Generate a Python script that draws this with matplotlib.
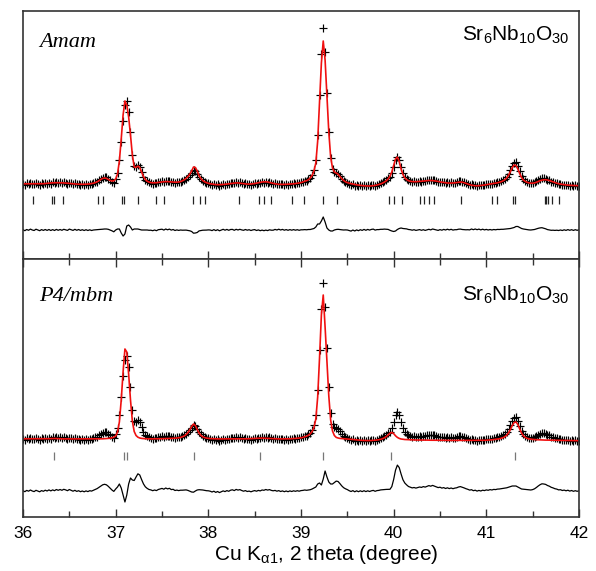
import numpy as np
import matplotlib
matplotlib.use("Agg")
from matplotlib import pyplot as plt
from matplotlib.ticker import MultipleLocator

plt.rcParams['font.family'] = ['Liberation Sans', 'DejaVu Sans']
plt.rcParams['mathtext.fontset'] = 'custom'
plt.rcParams['mathtext.rm'] = 'Liberation Sans'
plt.rcParams['mathtext.it'] = 'Liberation Sans:italic'

# 2 theta grid, 0.02 deg step
two_theta = np.round(np.linspace(36.0, 42.0, 301), 2)

# observed intensity (arb. units), one row = 0.2 deg
obs = [
    1.5, 0.5, 1.8, 1.0, 2.2, 1.2, 0.6, 1.9, 1.1, 0.4,
    1.6, 0.9, 2.0, 1.3, 2.4, 1.5, 2.6, 1.8, 2.9, 2.0,
    2.7, 1.9, 2.8, 2.2, 1.4, 2.5, 1.6, 0.8, 1.7, 0.6,
    1.3, 0.3, 1.0, 0.2, 1.1, 0.4, 1.3, 0.9, 1.8, 2.6,
    3.5, 4.8, 6.2, 7.4, 8.0, 7.6, 6.3, 4.6, 3.2, 2.4,
    6.0, 12, 25, 43, 64, 80, 84, 73, 53, 30,
    19, 18.5, 20, 18, 13, 8.5, 5.5, 3.8, 2.6, 2.2,
    1.5, 2.2, 1.6, 2.8, 3.3, 3.9, 3.2, 4.4, 3.6, 4.2,
    3.0, 3.4, 2.3, 2.9, 2.6, 3.4, 4.0, 5.0, 6.5, 8.0,
    10.0, 12.5, 14.8, 14.5, 11.5, 8.3, 5.8, 4.2, 3.0, 2.2,
    1.8, 1.2, 0.3, 1.0, -0.2, 0.6, -0.5, 0.4, 1.2, 0.5,
    1.5, 0.8, 1.9, 2.3, 1.6, 2.8, 2.1, 2.6, 1.7, 1.0,
    1.6, 0.7, 1.2, 0.5, 1.3, 1.9, 1.4, 2.4, 2.0, 2.9,
    2.5, 3.1, 2.4, 2.8, 1.9, 1.4, 1.8, 0.9, 1.5, 0.6,
    1.2, 0.4, 1.1, 0.5, 1.3, 0.8, 1.6, 1.2, 2.0, 1.7,
    2.6, 3.2, 4.2, 4.5, 5.8, 7.5, 10.5, 15.5, 25, 50,
    90, 131, 157, 133, 92, 53, 27, 16, 13, 12.5,
    11.5, 9, 6.5, 4.5, 3.3, 2.4, 1.2, 0.2, 0.9, -0.5,
    0.3, -0.8, -0.1, -1.0, -0.2, -1.2, -0.4, -1.1, -0.3, 0.2,
    -0.5, 0.4, 0.9, 1.8, 2.6, 3.8, 5.0, 6.6, 8.5, 12,
    18, 25, 28.5, 25, 18, 12, 8.5, 6.5, 4.8, 4.0,
    3.2, 3.6, 2.9, 3.4, 4.0, 3.5, 4.3, 3.8, 4.6, 5.2,
    4.6, 5.4, 4.7, 4.0, 3.1, 3.5, 2.6, 3.1, 2.2, 2.8,
    2.0, 2.6, 1.9, 2.5, 2.8, 3.6, 3.9, 3.3, 2.6, 1.8,
    1.2, 0.4, 0.8, -0.2, 0.3, -0.5, 0.2, -0.4, 0.5, 0.1,
    0.9, 0.6, 1.4, 1.2, 2.0, 2.0, 2.8, 3.2, 4.0, 4.8,
    6.2, 8.0, 11, 15, 19.5, 22.5, 23, 19.5, 14, 9,
    6, 4.3, 3.2, 2.2, 1.8, 2.0, 2.6, 3.8, 5.2, 6.4,
    7.2, 7.0, 6.5, 5.4, 4.6, 3.5, 2.9, 2.0, 1.6, 0.8,
    0.9, 0.1, 0.5, -0.3, 0.3, -0.6, -0.1, -0.9, -0.3, -1.0,
    -0.5,
]

# calculated profile, Amam model
calc_amam = [
    1.2, 1.2, 1.3, 1.3, 1.3, 1.2, 1.1, 1.1, 1.1, 1.1,
    1.2, 1.3, 1.5, 1.7, 1.9, 2.0, 2.2, 2.3, 2.3, 2.3,
    2.2, 2.2, 2.1, 2.0, 1.8, 1.6, 1.4, 1.2, 1.0, 0.9,
    0.8, 0.7, 0.7, 0.7, 0.8, 0.9, 1.1, 1.4, 1.8, 2.4,
    3.2, 4.3, 5.6, 6.6, 7.0, 6.6, 5.6, 4.6, 4.0, 4.2,
    6.0, 11, 24, 46, 70, 84, 80, 68, 50, 30,
    18, 17.5, 19, 17.5, 13, 8.5, 5.5, 3.8, 2.9, 2.4,
    2.2, 2.2, 2.3, 2.5, 2.8, 3.1, 3.3, 3.4, 3.4, 3.3,
    3.1, 2.9, 2.8, 2.8, 3.0, 3.4, 4.2, 5.2, 6.6, 8.4,
    10.8, 14.0, 18, 17.5, 14, 9.2, 6.4, 4.4, 3.2, 2.3,
    1.7, 1.2, 0.9, 0.6, 0.4, 0.3, 0.3, 0.4, 0.5, 0.7,
    0.9, 1.1, 1.4, 1.7, 1.9, 2.1, 2.1, 1.9, 1.6, 1.3,
    1.1, 0.9, 0.9, 1.0, 1.2, 1.5, 1.9, 2.3, 2.7, 3.0,
    3.2, 3.2, 3.0, 2.6, 2.1, 1.6, 1.2, 0.9, 0.7, 0.6,
    0.6, 0.6, 0.7, 0.8, 0.9, 1.0, 1.2, 1.4, 1.7, 2.0,
    2.4, 3.0, 3.8, 4.3, 5.3, 7.0, 9.5, 14, 22, 44,
    84, 122, 144, 125, 90, 53, 28, 17, 13, 12,
    10.8, 8.6, 6.3, 4.5, 3.2, 2.4, 1.8, 1.3, 0.9, 0.5,
    0.2, -0.1, -0.4, -0.6, -0.8, -0.9, -1.0, -1.0, -0.9, -0.7,
    -0.4, 0.0, 0.5, 1.1, 1.9, 2.9, 4.2, 6.0, 8.8, 13,
    19.5, 26, 28, 23.5, 16, 10.5, 7.2, 5.4, 4.3, 3.7,
    3.4, 3.3, 3.3, 3.4, 3.6, 3.8, 4.0, 4.2, 4.4, 4.5,
    4.5, 4.4, 4.2, 3.9, 3.5, 3.1, 2.8, 2.5, 2.2, 2.0,
    1.9, 1.9, 2.0, 2.2, 2.5, 2.8, 3.0, 2.8, 2.3, 1.6,
    0.9, 0.3, -0.2, -0.5, -0.7, -0.8, -0.7, -0.5, -0.3, 0.0,
    0.3, 0.6, 0.9, 1.2, 1.5, 1.8, 2.2, 2.7, 3.3, 4.1,
    5.3, 7.0, 9.8, 13.5, 17.5, 20, 19.5, 16, 11.5, 7.5,
    5.0, 3.6, 2.7, 2.1, 1.8, 1.8, 2.1, 2.7, 3.5, 4.3,
    4.9, 5.2, 5.3, 5.0, 4.5, 3.8, 3.1, 2.4, 1.8, 1.3,
    0.9, 0.6, 0.3, 0.1, -0.1, -0.3, -0.4, -0.5, -0.6, -0.7,
    -0.7,
]

# calculated profile, P4/mbm model
calc_p4 = [
    1.2, 1.2, 1.2, 1.2, 1.2, 1.2, 1.2, 1.2, 1.2, 1.2,
    1.2, 1.2, 1.2, 1.3, 1.3, 1.4, 1.5, 1.5, 1.4, 1.3,
    1.2, 1.2, 1.1, 1.1, 1.1, 1.0, 1.0, 1.0, 1.0, 1.0,
    1.0, 1.0, 1.0, 1.0, 1.0, 1.0, 1.0, 1.0, 1.1, 1.1,
    1.1, 1.1, 1.2, 1.2, 1.3, 1.4, 1.6, 1.8, 2.2, 2.8,
    4.0, 8.0, 18, 40, 68, 91, 88, 66, 40, 19,
    8.5, 4.5, 2.8, 2.0, 1.6, 1.4, 1.3, 1.2, 1.1, 1.1,
    1.2, 1.2, 1.2, 1.3, 1.3, 1.3, 1.4, 1.4, 1.5, 1.5,
    1.6, 1.7, 1.8, 2.0, 2.2, 2.6, 3.2, 4.0, 5.4, 7.4,
    10.2, 13.5, 16.0, 14.5, 10.5, 7.0, 4.6, 3.2, 2.4, 1.9,
    1.6, 1.4, 1.3, 1.2, 1.2, 1.1, 1.1, 1.1, 1.1, 1.1,
    1.1, 1.1, 1.1, 1.1, 1.2, 1.2, 1.2, 1.2, 1.2, 1.2,
    1.2, 1.2, 1.3, 1.3, 1.4, 1.5, 1.6, 1.8, 1.9, 1.9,
    1.8, 1.6, 1.5, 1.4, 1.3, 1.2, 1.2, 1.1, 1.1, 1.1,
    1.1, 1.1, 1.1, 1.2, 1.2, 1.3, 1.4, 1.5, 1.7, 1.9,
    2.2, 2.6, 3.2, 3.8, 4.8, 6.2, 8.5, 12.5, 21, 43,
    82, 125, 145, 113, 78, 44, 20, 9, 4.5, 2.6,
    2.0, 1.6, 1.4, 1.2, 1.1, 1.0, 0.9, 0.7, 0.5, 0.3,
    0.1, -0.1, -0.3, -0.4, -0.5, -0.6, -0.6, -0.6, -0.5, -0.4,
    -0.2, 0.0, 0.3, 0.7, 1.3, 2.2, 3.4, 5.0, 6.8, 7.6,
    6.4, 4.2, 2.6, 1.6, 1.0, 0.7, 0.5, 0.4, 0.3, 0.2,
    0.1, 0.1, 0.0, 0.0, 0.0, -0.1, -0.1, -0.1, -0.1, -0.2,
    -0.2, -0.2, -0.2, -0.2, -0.3, -0.3, -0.3, -0.3, -0.3, -0.4,
    -0.4, -0.4, -0.4, -0.4, -0.4, -0.4, -0.5, -0.5, -0.5, -0.5,
    -0.5, -0.5, -0.5, -0.5, -0.5, -0.4, -0.4, -0.4, -0.3, -0.3,
    -0.2, -0.1, 0.0, 0.2, 0.4, 0.6, 0.9, 1.2, 1.7, 2.3,
    3.3, 4.8, 7.2, 10.5, 14.5, 17.5, 18.0, 15.5, 11.0, 7.0,
    4.2, 2.6, 1.7, 1.1, 0.8, 0.6, 0.4, 0.3, 0.2, 0.1,
    0.0, 0.0, -0.1, -0.1, -0.2, -0.2, -0.2, -0.3, -0.3, -0.3,
    -0.4, -0.4, -0.4, -0.5, -0.5, -0.5, -0.6, -0.6, -0.6, -0.7,
    -0.7,
]

# Bragg reflection positions
amam_peaks = [36.11, 36.315, 36.33, 36.43, 36.805, 36.86, 37.063, 37.093,
              37.24, 37.432, 37.525, 37.838, 37.905, 37.967, 38.329, 38.55,
              38.605, 38.68, 38.908, 39.037, 39.233, 39.387, 39.955, 40.005,
              40.085, 40.28, 40.328, 40.377, 40.432, 40.723, 41.066, 41.12,
              41.29, 41.305, 41.63, 41.645, 41.667, 41.71, 41.785]
p4_peaks = [36.33, 37.09, 37.12, 37.845, 38.557, 39.234, 39.967, 41.31]

assert len(obs) == len(two_theta)
assert len(calc_amam) == len(two_theta)
assert len(calc_p4) == len(two_theta)

obs = np.array(obs)

fig = plt.figure(figsize=(5.96, 5.71), dpi=100)
ax_top = fig.add_axes([23/596, 1 - 259/571, 556/596, 248/571])
ax_bot = fig.add_axes([23/596, 1 - 517/571, 556/596, 258/571])

panels = [
    (ax_top, np.array(calc_amam), amam_peaks, "Amam", '#222222', -45, (-19, -11), (-74, 174), 0.875, 0.879),
    (ax_bot, np.array(calc_p4), p4_peaks, "P4/mbm", '#777777', -51, (-20, -12), (-77, 181), 0.853, 0.838),
]

for ax, calc, peaks, name, tick_col, diff_off, tick_y, ylim, name_y, form_y in panels:
    ax.plot(two_theta, obs, ls='none', marker='+', color='black', markersize=5.2, mew=0.85)
    ax.plot(two_theta, calc, color='#f01010', lw=1.2)
    ax.vlines(peaks, tick_y[0], tick_y[1], color=tick_col, lw=0.9)
    ax.plot(two_theta, obs - calc + diff_off, color='black', lw=0.9)

    ax.set_xlim(36, 42)
    ax.set_ylim(*ylim)
    ax.set_yticks([])
    ax.xaxis.set_major_locator(MultipleLocator(1))
    ax.xaxis.set_minor_locator(MultipleLocator(0.5))
    for s in ax.spines.values():
        s.set_color('#333333')
        s.set_linewidth(1.2)

    ax.text(0.029, name_y, name, transform=ax.transAxes, ha='left', va='center',
            fontsize=16, style='italic', family='Liberation Serif')
    ax.text(0.984, form_y, r'Sr$_6$Nb$_{10}$O$_{30}$', transform=ax.transAxes,
            ha='right', va='baseline', fontsize=15)

ax_top.tick_params(axis='x', which='both', direction='in', top=False, bottom=True,
                   labelbottom=False, color='#333333')
ax_top.tick_params(axis='x', which='major', length=6, width=1)
ax_top.tick_params(axis='x', which='minor', length=4, width=1)

ax_bot.tick_params(axis='x', which='both', direction='in', top=True, bottom=True,
                   labelsize=12.5, pad=6.5, color='#333333')
ax_bot.tick_params(axis='x', which='major', length=6, width=1)
ax_bot.tick_params(axis='x', which='minor', length=4, width=1)

fig.text(0.547, 1 - 555/571, r'Cu K$_{\mathrm{\alpha 1}}$, 2 theta (degree)',
         ha='center', va='center', fontsize=15)

plt.savefig("out.png", dpi=100)
